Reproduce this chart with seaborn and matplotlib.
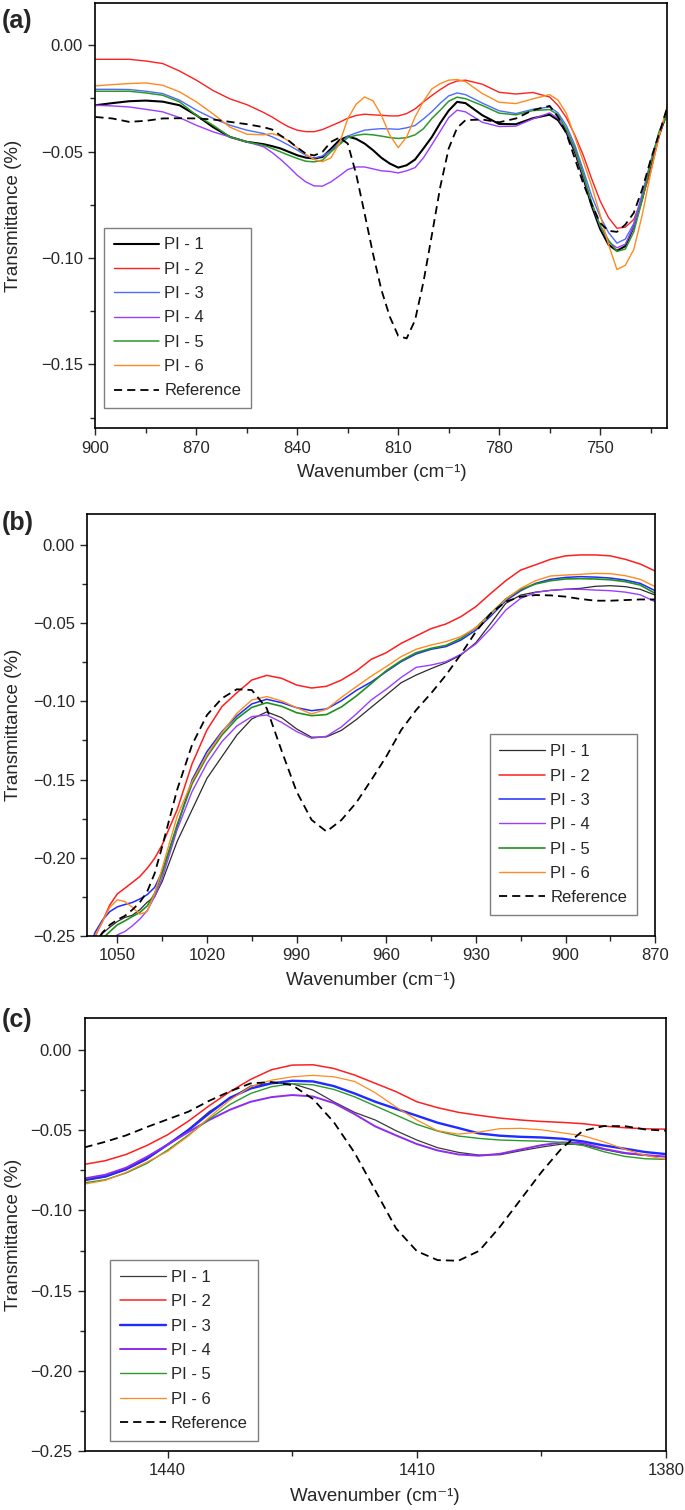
import numpy as np
import pandas as pd
import matplotlib
matplotlib.use("Agg")
import matplotlib.pyplot as plt
from matplotlib.ticker import MultipleLocator, FuncFormatter
import seaborn as sns

sns.set_style("ticks")
plt.rcParams["font.family"] = ["Liberation Sans", "DejaVu Sans"]

samples = ["PI - 1", "PI - 2", "PI - 3", "PI - 4", "PI - 5", "PI - 6", "Reference"]

# ---------------- panel (a): 900-730 cm-1 ----------------
wn_a = [900, 895, 890, 885, 880, 875, 870, 865, 860, 855, 850,
        847.5, 845, 842.5, 840, 837.5, 835, 832.5, 830, 827.5, 825, 822.5, 820,
        817.5, 815, 812.5, 810, 807.5, 805, 802.5, 800, 797.5, 795, 792.5, 790,
        785, 780, 775, 770, 765,
        762.5, 760, 757.5, 755, 752.5, 750, 747.5, 745, 742.5, 740, 737.5, 735, 732.5, 730]
pi1_a = [-0.0282, -0.0272, -0.0263, -0.0260, -0.0265, -0.0282, -0.0329, -0.0385, -0.0431, -0.0454, -0.0465,
         -0.0474, -0.0485, -0.0501, -0.0517, -0.0528, -0.0532, -0.0525, -0.0487, -0.0446, -0.0429, -0.0440, -0.0462,
         -0.0493, -0.0529, -0.0556, -0.0575, -0.0564, -0.0537, -0.0485, -0.0431, -0.0365, -0.0307, -0.0266, -0.0272,
         -0.0329, -0.0370, -0.0371, -0.0343, -0.0326,
         -0.0352, -0.0410, -0.0501, -0.0623, -0.0755, -0.0863, -0.0937, -0.0966, -0.0944, -0.0853, -0.0722, -0.0564, -0.0423, -0.0313]
pi2_a = [-0.0066, -0.0066, -0.0066, -0.0074, -0.0086, -0.0121, -0.0164, -0.0213, -0.0252, -0.0279, -0.0316,
         -0.0337, -0.0362, -0.0384, -0.0399, -0.0406, -0.0406, -0.0396, -0.0379, -0.0362, -0.0343, -0.0330, -0.0324,
         -0.0327, -0.0329, -0.0332, -0.0332, -0.0321, -0.0299, -0.0266, -0.0236, -0.0208, -0.0183, -0.0168, -0.0164,
         -0.0183, -0.0221, -0.0229, -0.0222, -0.0243,
         -0.0283, -0.0341, -0.0423, -0.0517, -0.0628, -0.0731, -0.0810, -0.0860, -0.0855, -0.0819, -0.0719, -0.0595, -0.0431, -0.0298]
pi3_a = [-0.0207, -0.0207, -0.0208, -0.0216, -0.0227, -0.0258, -0.0305, -0.0344, -0.0376, -0.0399, -0.0415,
         -0.0430, -0.0449, -0.0470, -0.0493, -0.0517, -0.0531, -0.0520, -0.0496, -0.0462, -0.0427, -0.0412, -0.0399,
         -0.0395, -0.0392, -0.0393, -0.0395, -0.0388, -0.0377, -0.0346, -0.0312, -0.0272, -0.0238, -0.0224, -0.0232,
         -0.0272, -0.0308, -0.0321, -0.0301, -0.0290,
         -0.0318, -0.0379, -0.0470, -0.0587, -0.0709, -0.0805, -0.0880, -0.0930, -0.0911, -0.0838, -0.0699, -0.0545, -0.0415, -0.0313]
pi4_a = [-0.0282, -0.0285, -0.0290, -0.0301, -0.0313, -0.0340, -0.0376, -0.0407, -0.0431, -0.0454, -0.0477,
         -0.0504, -0.0536, -0.0572, -0.0611, -0.0642, -0.0661, -0.0662, -0.0642, -0.0614, -0.0584, -0.0572, -0.0572,
         -0.0581, -0.0590, -0.0593, -0.0600, -0.0590, -0.0575, -0.0529, -0.0467, -0.0404, -0.0340, -0.0305, -0.0313,
         -0.0362, -0.0382, -0.0380, -0.0346, -0.0318,
         -0.0344, -0.0402, -0.0493, -0.0614, -0.0744, -0.0850, -0.0924, -0.0952, -0.0935, -0.0853, -0.0713, -0.0553, -0.0415, -0.0305]
pi5_a = [-0.0216, -0.0216, -0.0216, -0.0224, -0.0235, -0.0266, -0.0329, -0.0376, -0.0431, -0.0454, -0.0470,
         -0.0485, -0.0501, -0.0517, -0.0532, -0.0545, -0.0548, -0.0540, -0.0501, -0.0467, -0.0434, -0.0423, -0.0418,
         -0.0421, -0.0427, -0.0434, -0.0438, -0.0434, -0.0421, -0.0392, -0.0344, -0.0305, -0.0263, -0.0244, -0.0251,
         -0.0283, -0.0319, -0.0327, -0.0307, -0.0302,
         -0.0327, -0.0395, -0.0485, -0.0606, -0.0739, -0.0847, -0.0916, -0.0969, -0.0958, -0.0877, -0.0728, -0.0556, -0.0407, -0.0321]
pi6_a = [-0.0191, -0.0185, -0.0180, -0.0177, -0.0188, -0.0219, -0.0266, -0.0323, -0.0385, -0.0418, -0.0421,
         -0.0415, -0.0427, -0.0451, -0.0482, -0.0512, -0.0537, -0.0547, -0.0529, -0.0462, -0.0345, -0.0277, -0.0243,
         -0.0261, -0.0329, -0.0423, -0.0481, -0.0431, -0.0337, -0.0263, -0.0205, -0.0180, -0.0164, -0.0161, -0.0171,
         -0.0227, -0.0268, -0.0274, -0.0252, -0.0232,
         -0.0258, -0.0321, -0.0431, -0.0545, -0.0662, -0.0796, -0.0936, -0.1054, -0.1034, -0.0960, -0.0799, -0.0603, -0.0427, -0.0282]
ref_a = [-0.0337, -0.0344, -0.0360, -0.0355, -0.0344, -0.0343, -0.0344, -0.0349, -0.0360, -0.0371, -0.0385,
         -0.0396, -0.0424, -0.0449, -0.0481, -0.0509, -0.0518, -0.0501, -0.0454, -0.0434, -0.0462, -0.0606, -0.0790,
         -0.0980, -0.1150, -0.1276, -0.1366, -0.1378, -0.1292, -0.1112, -0.0891, -0.0665, -0.0485, -0.0388, -0.0352,
         -0.0349, -0.0362, -0.0344, -0.0305, -0.0285,
         -0.0337, -0.0415, -0.0533, -0.0650, -0.0748, -0.0835, -0.0872, -0.0877, -0.0843, -0.0788, -0.0678, -0.0540, -0.0418, -0.0290]

# ---------------- panel (b): 1060-870 cm-1 ----------------
wn_b = [1060, 1057.5, 1055, 1052.5, 1050, 1047.5, 1045, 1042.5, 1040, 1037.5, 1035,
        1030, 1025, 1020, 1015, 1010, 1005, 1000, 995, 990, 985, 980, 975, 970, 965,
        960, 955, 950, 945, 940, 935, 930, 925, 920, 915, 910, 905, 900, 895, 890, 885, 880, 875, 870]
pi1_b = [-0.262, -0.255, -0.2485, -0.2445, -0.2409, -0.2383, -0.2369, -0.2334, -0.2285, -0.2249, -0.2153,
         -0.1897, -0.1694, -0.1492, -0.1353, -0.1215, -0.1112, -0.1067, -0.1104, -0.1176, -0.1229, -0.1227, -0.1185, -0.1116, -0.1037,
         -0.0959, -0.0880, -0.0831, -0.0790, -0.0752, -0.0703, -0.0624, -0.0500, -0.0372, -0.0319, -0.0300, -0.0289,
         -0.0282, -0.0276, -0.0263, -0.0259, -0.0265, -0.0282, -0.0319]
pi2_b = [-0.262, -0.2505, -0.2409, -0.2302, -0.2232, -0.2196, -0.2159, -0.2121, -0.2068, -0.2004, -0.1918,
         -0.1694, -0.1400, -0.1182, -0.1033, -0.0944, -0.0863, -0.0833, -0.0852, -0.0895, -0.0914, -0.0903, -0.0863, -0.0805, -0.0730,
         -0.0688, -0.0628, -0.0581, -0.0534, -0.0504, -0.0457, -0.0393, -0.0308, -0.0227, -0.0159, -0.0125, -0.0090,
         -0.0068, -0.0062, -0.0062, -0.0068, -0.0090, -0.0120, -0.0165]
pi3_b = [-0.262, -0.2480, -0.2400, -0.2345, -0.2315, -0.2300, -0.2287, -0.2265, -0.2237, -0.2190, -0.2090,
         -0.1801, -0.1502, -0.1321, -0.1193, -0.1093, -0.1016, -0.0986, -0.1008, -0.1040, -0.1059, -0.1048, -0.0995, -0.0929, -0.0875,
         -0.0809, -0.0745, -0.0696, -0.0666, -0.0649, -0.0607, -0.0543, -0.0453, -0.0355, -0.0291, -0.0244, -0.0218,
         -0.0206, -0.0201, -0.0204, -0.0210, -0.0223, -0.0244, -0.0291]
pi4_b = [-0.270, -0.265, -0.260, -0.254, -0.2494, -0.2473, -0.2437, -0.2394, -0.2339, -0.2249, -0.2132,
         -0.1822, -0.1577, -0.1396, -0.1257, -0.1157, -0.1097, -0.1087, -0.1134, -0.1193, -0.1236, -0.1223, -0.1163, -0.1080, -0.0990,
         -0.0922, -0.0846, -0.0782, -0.0767, -0.0745, -0.0698, -0.0632, -0.0532, -0.0415, -0.0340, -0.0302, -0.0289,
         -0.0282, -0.0282, -0.0287, -0.0291, -0.0300, -0.0317, -0.0361]
pi5_b = [-0.265, -0.256, -0.252, -0.2473, -0.2430, -0.2405, -0.2377, -0.2351, -0.2309, -0.2228, -0.2100,
         -0.1790, -0.1528, -0.1353, -0.1215, -0.1110, -0.1038, -0.1008, -0.1031, -0.1072, -0.1091, -0.1084, -0.1035, -0.0965, -0.0885,
         -0.0803, -0.0739, -0.0688, -0.0660, -0.0641, -0.0596, -0.0528, -0.0436, -0.0344, -0.0283, -0.0248, -0.0227,
         -0.0216, -0.0214, -0.0216, -0.0221, -0.0233, -0.0255, -0.0308]
pi6_b = [-0.262, -0.250, -0.2409, -0.2317, -0.2270, -0.2281, -0.2317, -0.2362, -0.2345, -0.2228, -0.2068,
         -0.1737, -0.1513, -0.1342, -0.1200, -0.1076, -0.0991, -0.0969, -0.0997, -0.1040, -0.1080, -0.1050, -0.0974, -0.0905, -0.0838,
         -0.0777, -0.0713, -0.0666, -0.0639, -0.0617, -0.0585, -0.0528, -0.0442, -0.0346, -0.0276, -0.0227, -0.0197,
         -0.0191, -0.0186, -0.0180, -0.0182, -0.0195, -0.0218, -0.0265]
ref_b = [-0.265, -0.255, -0.248, -0.2430, -0.2398, -0.2373, -0.2334, -0.2287, -0.2217, -0.2100, -0.1929,
         -0.1566, -0.1278, -0.1087, -0.0980, -0.0922, -0.0927, -0.1044, -0.1317, -0.1577, -0.1758, -0.1833, -0.1759, -0.1647, -0.1503,
         -0.1353, -0.1183, -0.1055, -0.0948, -0.0831, -0.0698, -0.0553, -0.0436, -0.0361, -0.0329, -0.0319, -0.0321,
         -0.0329, -0.0344, -0.0355, -0.0355, -0.0351, -0.0347, -0.0347]

# ---------------- panel (c): 1450-1380 cm-1 ----------------
wn_c = [1450, 1447.5, 1445, 1442.5, 1440, 1437.5, 1435, 1432.5, 1430, 1427.5, 1425, 1422.5, 1420, 1417.5, 1415,
        1412.5, 1410, 1407.5, 1405, 1402.5, 1400, 1397.5, 1395, 1392.5, 1390, 1387.5, 1385, 1382.5, 1380]
pi1_c = [-0.0814, -0.0791, -0.0746, -0.0681, -0.0589, -0.0494, -0.0383, -0.0302, -0.0223, -0.0204, -0.0208, -0.0248,
         -0.0321, -0.0387, -0.0435, -0.0502, -0.0560, -0.0608, -0.0637, -0.0654, -0.0652, -0.0627, -0.0604, -0.0585,
         -0.0589, -0.0619, -0.0644, -0.0656, -0.0664]
pi2_c = [-0.0712, -0.0689, -0.0650, -0.0594, -0.0527, -0.0442, -0.0346, -0.0258, -0.0181, -0.0121, -0.0092, -0.0090,
         -0.0113, -0.0154, -0.0206, -0.0258, -0.0321, -0.0358, -0.0387, -0.0406, -0.0423, -0.0435, -0.0444, -0.0450,
         -0.0458, -0.0473, -0.0483, -0.0490, -0.0492]
pi3_c = [-0.0806, -0.0787, -0.0741, -0.0675, -0.0589, -0.0498, -0.0394, -0.0296, -0.0238, -0.0206, -0.0190, -0.0194,
         -0.0223, -0.0269, -0.0321, -0.0365, -0.0408, -0.0452, -0.0485, -0.0519, -0.0533, -0.0540, -0.0544, -0.0552,
         -0.0569, -0.0594, -0.0614, -0.0635, -0.0648]
pi4_c = [-0.0800, -0.0777, -0.0733, -0.0665, -0.0589, -0.0510, -0.0435, -0.0371, -0.0321, -0.0292, -0.0279, -0.0288,
         -0.0329, -0.0398, -0.0475, -0.0531, -0.0585, -0.0625, -0.0650, -0.0658, -0.0646, -0.0619, -0.0592, -0.0575,
         -0.0579, -0.0615, -0.0640, -0.0654, -0.0664]
pi5_c = [-0.0827, -0.0808, -0.0766, -0.0706, -0.0623, -0.0529, -0.0429, -0.0338, -0.0269, -0.0227, -0.0208, -0.0215,
         -0.0244, -0.0290, -0.0347, -0.0404, -0.0462, -0.0504, -0.0535, -0.0550, -0.0560, -0.0564, -0.0567, -0.0575,
         -0.0594, -0.0633, -0.0662, -0.0677, -0.0681]
pi6_c = [-0.0835, -0.0812, -0.0762, -0.0698, -0.0631, -0.0535, -0.0419, -0.0310, -0.0227, -0.0186, -0.0165, -0.0156,
         -0.0165, -0.0194, -0.0265, -0.0354, -0.0435, -0.0502, -0.0523, -0.0510, -0.0489, -0.0487, -0.0496, -0.0515,
         -0.0533, -0.0571, -0.0617, -0.0656, -0.0681]
ref_c = [-0.0606, -0.0571, -0.0531, -0.0479, -0.0431, -0.0383, -0.0315, -0.0256, -0.0206, -0.0198, -0.0217, -0.0304,
         -0.0448, -0.0639, -0.0875, -0.1112, -0.1254, -0.1310, -0.1314, -0.1252, -0.1102, -0.0931, -0.0760, -0.0608,
         -0.0502, -0.0473, -0.0473, -0.0494, -0.0502]

colors_a = ["#000000", "#ff1f1f", "#4d6bff", "#9b3dff", "#2a9a2a", "#ff8a1f", "#000000"]
colors_b = ["#2b2b2b", "#ff1f1f", "#1f2bff", "#9b3dff", "#1f8f1f", "#ff8a1f", "#000000"]
colors_c = ["#3a3a3a", "#ff1f1f", "#1f2bff", "#8f2bf0", "#2a9a2a", "#ff8a1f", "#000000"]
widths_a = [1.5, 1.0, 1.0, 1.0, 1.1, 1.0, 1.3]
widths_b = [0.9, 1.1, 1.1, 1.0, 1.2, 1.0, 1.3]
widths_c = [0.9, 1.1, 1.7, 1.4, 1.0, 0.9, 1.3]

dash_map = {s: "" for s in samples}
dash_map["Reference"] = (4.5, 2.8)


def long_frame(wn, series):
    parts = []
    for name, vals in zip(samples, series):
        parts.append(pd.DataFrame({"wn": wn, "T": vals, "sample": name}))
    return pd.concat(parts, ignore_index=True)


def minus_fmt(v, pos):
    s = f"{v:.2f}"
    if s == "-0.00":
        s = "0.00"
    return s.replace("-", "\u2212")


def draw(ax, df, colors, widths, xlim, ylim, legend_loc, legend_anchor, ylab_x, xlab_y):
    sns.lineplot(data=df, x="wn", y="T", hue="sample", hue_order=samples,
                 palette=dict(zip(samples, colors)), style="sample", style_order=samples,
                 dashes=dash_map, estimator=None, errorbar=None, sort=False,
                 legend=False, ax=ax)
    for line, lw in zip(ax.lines, widths):
        line.set_linewidth(lw)
    ax.set_xlim(*xlim)
    ax.set_ylim(*ylim)
    ax.xaxis.set_major_locator(MultipleLocator(30))
    ax.xaxis.set_minor_locator(MultipleLocator(15))
    ax.yaxis.set_major_locator(MultipleLocator(0.05))
    ax.yaxis.set_minor_locator(MultipleLocator(0.025))
    ax.yaxis.set_major_formatter(FuncFormatter(minus_fmt))
    ax.tick_params(which="both", direction="out", width=1.0, labelsize=12,
                   top=False, right=False, pad=4)
    ax.tick_params(which="major", length=5)
    ax.tick_params(which="minor", length=3.5)
    for sp in ax.spines.values():
        sp.set_linewidth(1.2)
        sp.set_color("black")
        sp.set_visible(True)
    ax.set_xlabel("Wavenumber (cm\u207b\u00b9)", fontsize=13.5)
    ax.set_ylabel("Transmittance (%)", fontsize=13.5)
    ax.xaxis.set_label_coords(0.5, xlab_y)
    ax.xaxis.label.set_va("center")
    ax.yaxis.set_label_coords(ylab_x, 0.5)
    ax.yaxis.label.set_va("center")
    leg = ax.legend(ax.lines, samples, loc=legend_loc, bbox_to_anchor=legend_anchor,
                    frameon=True, fancybox=False, framealpha=1, edgecolor="#7f7f7f",
                    fontsize=12, handlelength=2.75, handletextpad=0.3,
                    labelspacing=0.56, borderpad=0.59, borderaxespad=0)
    leg.get_frame().set_linewidth(1.0)


fig = plt.figure(figsize=(6.85, 15.1), dpi=100)
ax_a = fig.add_axes([0.1393, 0.7164, 0.8350, 0.2818])
ax_b = fig.add_axes([0.1277, 0.3803, 0.8287, 0.2793])
ax_c = fig.add_axes([0.1234, 0.0393, 0.8490, 0.2863])

draw(ax_a, long_frame(wn_a, [pi1_a, pi2_a, pi3_a, pi4_a, pi5_a, pi6_a, ref_a]),
     colors_a, widths_a, (900, 730), (-0.18, 0.02), "lower left", (0.0145, 0.047), -0.144, -0.103)
draw(ax_b, long_frame(wn_b, [pi1_b, pi2_b, pi3_b, pi4_b, pi5_b, pi6_b, ref_b]),
     colors_b, widths_b, (1060, 870), (-0.25, 0.02), "lower right", (0.968, 0.049), -0.131, -0.105)
draw(ax_c, long_frame(wn_c, [pi1_c, pi2_c, pi3_c, pi4_c, pi5_c, pi6_c, ref_c]),
     colors_c, widths_c, (1450, 1380), (-0.25, 0.02), "lower left", (0.0444, 0.023), -0.1228, -0.106)

for lab, ypix in [("(a)", 21), ("(b)", 523), ("(c)", 1020)]:
    fig.text(0.002, 1 - ypix / 1510, lab, fontsize=18, fontweight="bold",
             ha="left", va="center")

fig.savefig("out.png", dpi=100)
